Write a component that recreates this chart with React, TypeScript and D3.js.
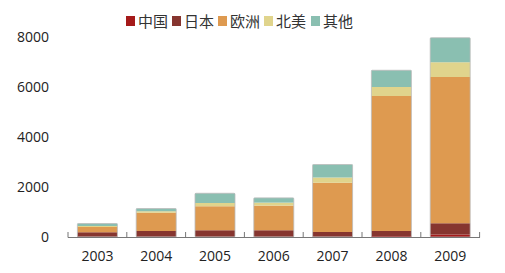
import React from "react";
import * as d3 from "d3";

const years = ["2003", "2004", "2005", "2006", "2007", "2008", "2009"];
const seriesNames = ["中国", "日本", "欧洲", "北美", "其他"];
const china = [10, 10, 10, 10, 10, 40, 100];
const japan = [180, 230, 260, 260, 190, 200, 450];
const europe = [210, 730, 960, 985, 1970, 5400, 5850];
const northAmerica = [40, 60, 130, 120, 210, 360, 590];
const others = [100, 110, 390, 190, 520, 670, 980];
const yTicks = [0, 2000, 4000, 6000, 8000];
const colors = ["#A51A1A", "#86352F", "#DE9A50", "#E0D48C", "#8ABFB1"];

const W = 505;
const H = 273;

export default function App() {
  const rows = years.map((y, i) => ({
    year: y,
    中国: china[i],
    日本: japan[i],
    欧洲: europe[i],
    北美: northAmerica[i],
    其他: others[i],
  }));
  const stack = d3.stack<any>().keys(seriesNames)(rows);
  const x = d3.scaleBand().domain(years).range([68, 479.6]).paddingInner(0.32).paddingOuter(0.16);
  const y = d3.scaleLinear().domain([0, 8000]).range([237, 37]);
  const font = "'Open Sans', 'Noto Sans CJK SC', sans-serif";
  const step = x.step();
  const legendX = [126, 172, 218, 264, 311];

  return (
    <svg width={W} height={H} style={{ position: "absolute", left: 0, top: 0 }}>
      <rect width={W} height={H} fill="#fff" />
      {/* legend */}
      {seriesNames.map((s, i) => (
        <g key={s} transform={`translate(${legendX[i]},0)`}>
          <rect x={0} y={16} width={9} height={10} fill={colors[i]} />
          <text x={12} y={26.5} fontSize={15} fill="#333" fontFamily="'Noto Sans CJK SC', sans-serif">
            {s}
          </text>
        </g>
      ))}
      {/* y labels */}
      {yTicks.map((t) => (
        <text key={t} x={49} y={y(t)} dy="0.35em" textAnchor="end" fontSize={14} fill="#222" fontFamily={font}>
          {t}
        </text>
      ))}
      {/* bars */}
      {stack.map((layer, li) => (
        <g key={layer.key} fill={colors[li]}>
          {layer.map((d, i) => (
            <rect
              key={i}
              x={x(years[i])!}
              y={y(d[1])}
              width={x.bandwidth()}
              height={Math.max(0, y(d[0]) - y(d[1]))}
            />
          ))}
        </g>
      ))}
      {/* bar outlines */}
      {rows.map((r, i) => {
        const top = stack[stack.length - 1][i][1];
        return (
          <rect
            key={r.year}
            x={x(r.year)!}
            y={y(top)}
            width={x.bandwidth()}
            height={y(0) - y(top)}
            fill="none"
            stroke="#bbb"
            strokeWidth={0.8}
            rx={1}
          />
        );
      })}
      {/* axis */}
      <line x1={68} x2={480} y1={237.5} y2={237.5} stroke="#777" strokeWidth={1} />
      {d3.range(years.length + 1).map((k) => (
        <line key={k} x1={68 + k * step} x2={68 + k * step} y1={232} y2={237.5} stroke="#777" strokeWidth={1} />
      ))}
      {years.map((yr) => (
        <text key={yr} x={x(yr)! + x.bandwidth() / 2} y={256} dy="0.35em" textAnchor="middle" fontSize={14} fill="#222" fontFamily={font}>
          {yr}
        </text>
      ))}
    </svg>
  );
}
